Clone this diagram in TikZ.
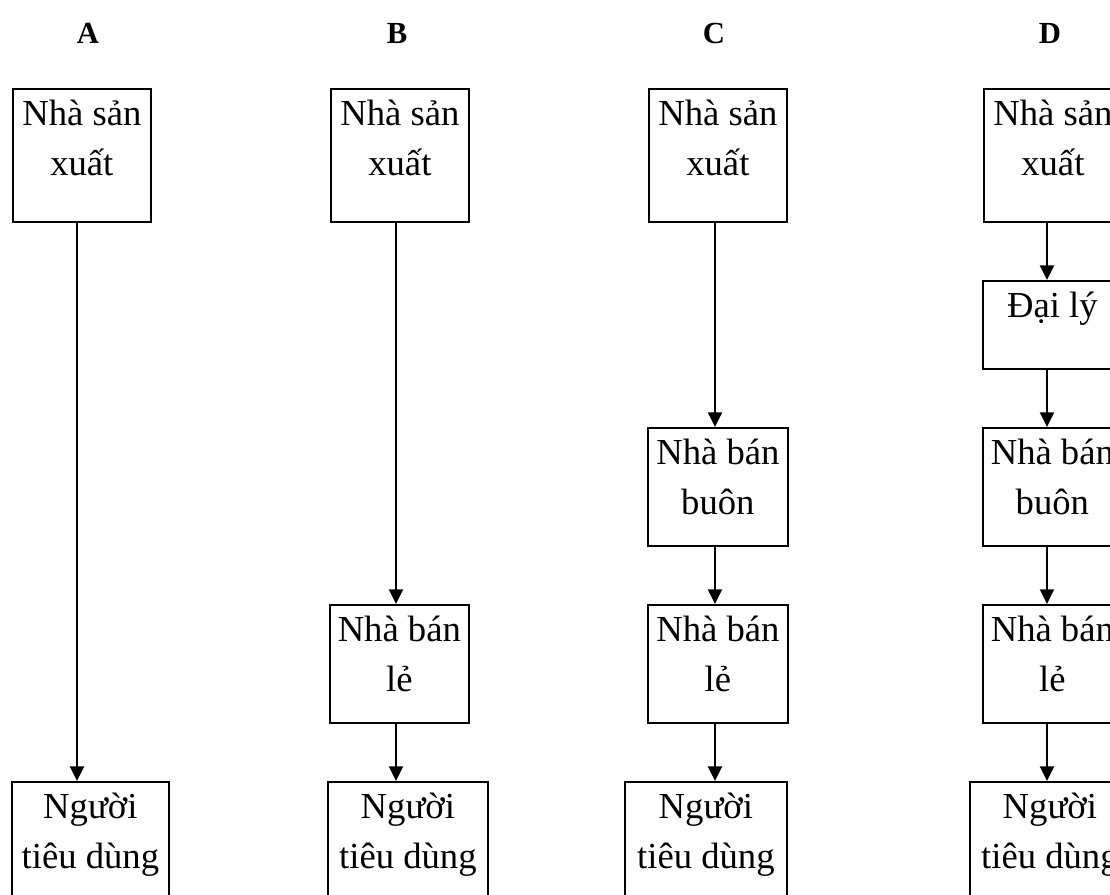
\documentclass[tikz,border=0pt]{standalone}
\usepackage{fontspec}
\setmainfont{Liberation Serif}
\usetikzlibrary{arrows.meta}
\newcommand\boxtext[3]{\parbox[t][\dimexpr #2pt*3/4\relax][t]{\dimexpr #1pt*3/4\relax}{\centering\rule{0pt}{27.75pt}#3}}
\tikzset{
  box/.style={draw, line width=1.3pt, inner sep=0pt, anchor=north west,
    font=\fontsize{27.5}{37.5}\selectfont},
  arr/.style={line width=1.5pt, -{Triangle[width=10.5pt,length=11pt]}},
  ttl/.style={anchor=base, inner sep=0pt, font=\bfseries\fontsize{23}{27}\selectfont}
}
\begin{document}
\begin{tikzpicture}[x=0.75pt,y=-0.75pt]
\useasboundingbox (0,0) rectangle (1110,895);
\clip (0,0) rectangle (1110,895);
% titles
\node[ttl] (tA) at (88,44) {A};
\node[ttl] (tB) at (397,44) {B};
\node[ttl] (tC) at (714,44) {C};
\node[ttl] (tD) at (1050,44) {D};
% column A
\node[box] (a1) at (12,88) {\boxtext{138}{133}{Nhà sản\\ xuất}};
\node[box] (a2) at (11,781) {\boxtext{157}{130}{Người\\ tiêu dùng}};
% column B
\node[box] (b1) at (330,88) {\boxtext{138}{133}{Nhà sản\\ xuất}};
\node[box] (b2) at (329,604) {\boxtext{139}{118}{Nhà bán\\ lẻ}};
\node[box] (b3) at (327,781) {\boxtext{160}{130}{Người\\ tiêu dùng}};
% column C
\node[box] (c1) at (648,88) {\boxtext{138}{133}{Nhà sản\\ xuất}};
\node[box] (c2) at (647,427) {\boxtext{140}{118}{Nhà bán\\ buôn}};
\node[box] (c3) at (647,604) {\boxtext{140}{118}{Nhà bán\\ lẻ}};
\node[box] (c4) at (624,781) {\boxtext{162}{130}{Người\\ tiêu dùng}};
% column D
\node[box] (d1) at (983,88) {\boxtext{138}{133}{Nhà sản\\ xuất}};
\node[box] (d2) at (982,280) {\boxtext{139}{88}{Đại lý}};
\node[box] (d3) at (982,427) {\boxtext{139}{118}{Nhà bán\\ buôn}};
\node[box] (d4) at (982,604) {\boxtext{139}{118}{Nhà bán\\ lẻ}};
\node[box] (d5) at (969,781) {\boxtext{160}{130}{Người\\ tiêu dùng}};
% arrow columns
\coordinate (xa) at (77,0);
\coordinate (xb) at (396,0);
\coordinate (xc) at (715,0);
\coordinate (xd) at (1047,0);
\draw[arr] (a1.south -| xa) -- (a2.north -| xa);
\draw[arr] (b1.south -| xb) -- (b2.north -| xb);
\draw[arr] (b2.south -| xb) -- (b3.north -| xb);
\draw[arr] (c1.south -| xc) -- (c2.north -| xc);
\draw[arr] (c2.south -| xc) -- (c3.north -| xc);
\draw[arr] (c3.south -| xc) -- (c4.north -| xc);
\draw[arr] (d1.south -| xd) -- (d2.north -| xd);
\draw[arr] (d2.south -| xd) -- (d3.north -| xd);
\draw[arr] (d3.south -| xd) -- (d4.north -| xd);
\draw[arr] (d4.south -| xd) -- (d5.north -| xd);
\end{tikzpicture}
\end{document}
